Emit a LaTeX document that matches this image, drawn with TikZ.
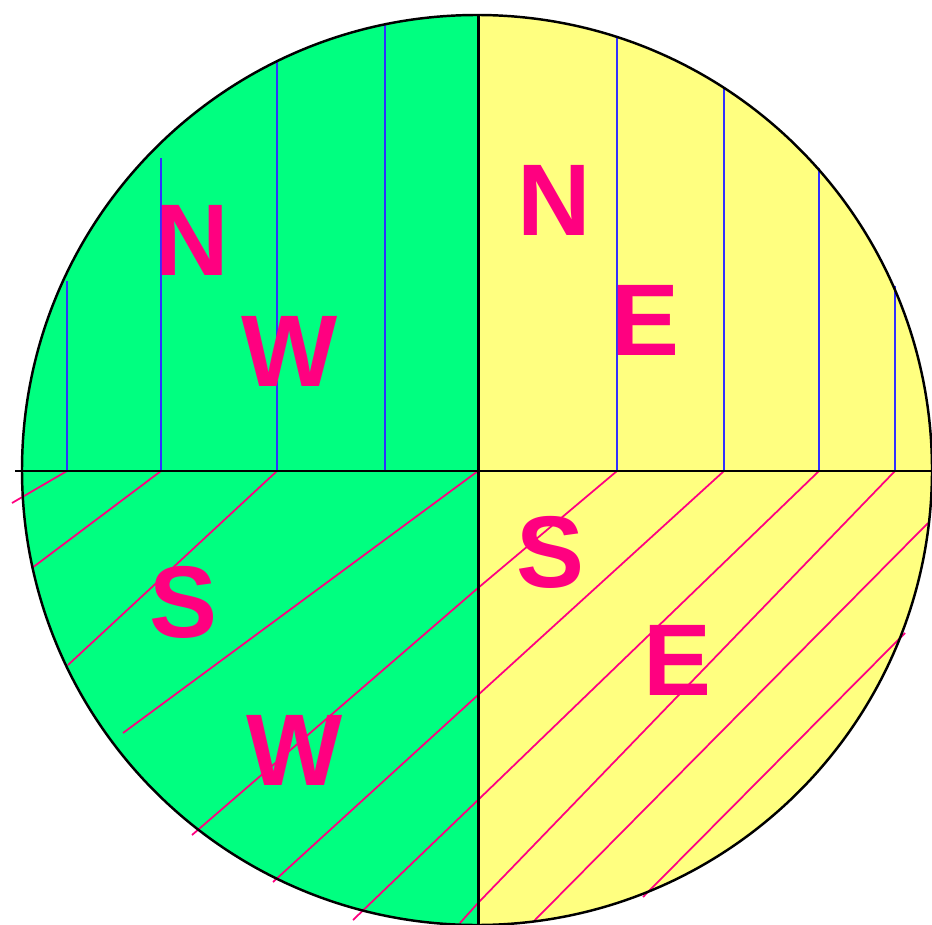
\documentclass[tikz,border=0pt]{standalone}
\usepackage{fontspec}
\setmainfont{Liberation Sans}
\usepackage{tikz}
\usetikzlibrary{calc}

\definecolor{leafgreen}{HTML}{00FF80}
\definecolor{paleyellow}{HTML}{FFFF80}
\definecolor{hatchblue}{HTML}{3030FF}
\definecolor{rosepink}{HTML}{FF0080}

\tikzset{
  letter/.style={inner sep=0pt, text=rosepink, font=\fontsize{58}{58}\selectfont\bfseries},
  vhatch/.style={hatchblue, line width=1.3pt},
  dhatch/.style={rosepink, line width=1pt},
  axis/.style={black, line width=1.7pt}
}

\begin{document}
\begin{tikzpicture}
\begin{scope}[x=0.02cm, y=-0.02cm]
\useasboundingbox (0,0) rectangle (932,925);

\fill[leafgreen] (477,470) circle (455);
\begin{scope}
\clip (478,0) rectangle (940,930);
\fill[paleyellow] (477,470) circle (455);
\end{scope}

\draw[vhatch] (67,471)--(67,281);
\draw[vhatch] (161,471)--(161,158);
\draw[vhatch] (277,471)--(277,61);
\draw[vhatch] (385,471)--(385,25);
\draw[vhatch] (617,471)--(617,38);
\draw[vhatch] (724,471)--(724,88);
\draw[vhatch] (819,471)--(819,168);
\draw[vhatch] (895,471)--(895,286);

\draw[dhatch] (67,471)--(12,503);
\draw[dhatch] (161,471)--(32,568);
\draw[dhatch] (277,471)--(68,665);
\draw[dhatch] (478,471)--(123,733);
\draw[dhatch] (617,471)--(478,588)--(192,835);
\draw[dhatch] (724,471)--(478,695)--(273,882);
\draw[dhatch] (819,471)--(478,800)--(353,920);
\draw[dhatch] (895,471)--(478,903)--(460,923);
\draw[dhatch] (928,523)--(533,922);
\draw[dhatch] (905,633)--(643,897);

\draw[axis] (15,471)--(932,471);
\draw[axis] (478,15)--(478,925);
\draw[black, line width=1.4pt] (477,470) circle (455);

\node[letter] (nwN) at (192,240) {N};
\node[letter] (nwW) at (290,351) {W};
\node[letter] (neN) at (554,200) {N};
\node[letter] (neE) at (645,320) {E};
\node[letter] (swS) at (183,602) {S};
\node[letter] (swW) at (295,750) {W};
\node[letter] (seS) at (550,552) {S};
\node[letter] (seE) at (677,660) {E};
\end{scope}
\end{tikzpicture}
\end{document}
